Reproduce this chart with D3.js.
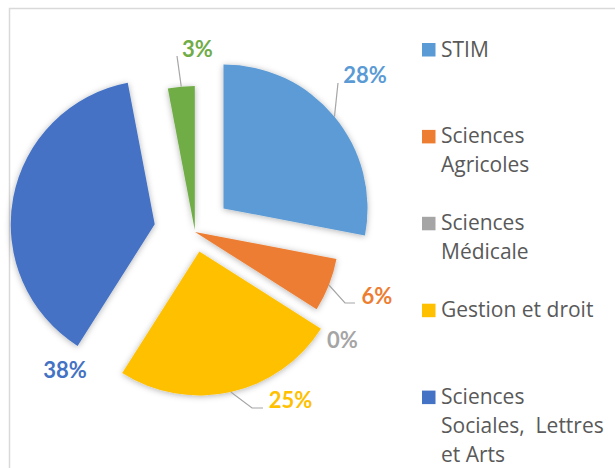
<!DOCTYPE html>
<html><head><meta charset="utf-8">
<script src="https://cdn.jsdelivr.net/npm/d3@7"></script>
<style>
html,body{margin:0;padding:0;background:#fff;}
svg{display:block;}
</style></head>
<body>
<script>
// ---- data ----
const categories = ["STIM", "Sciences Agricoles", "Sciences Médicale", "Gestion et droit", "Sciences Sociales,  Lettres et Arts", "Autres"];
const values = [28, 6, 0, 25, 38, 3];
const labels = ["28%", "6%", "0%", "25%", "38%", "3%"];
const legendLines = [["STIM"], ["Sciences", "Agricoles"], ["Sciences", "Médicale"], ["Gestion et droit"], ["Sciences", "Sociales,  Lettres", "et Arts"]];
const colors = ["#5B9BD5", "#ED7D31", "#A5A5A5", "#FFC000", "#4472C4", "#70AD47"];

// ---- layout ----
const W = 615, H = 468;
const cx = 195, cy = 232, R = 144;
const explode = [37, 0, 0, 20, 41, 2];
// label anchor (middle, baseline) and leader elbow
const labelPos = [
  {x: 365, y: 83, leader: [[338, 83]]},
  {x: 377, y: 304, leader: [[345, 303], [355, 303]]},
  {x: 342.5, y: 348, leader: null},
  {x: 290.5, y: 408, leader: [[252, 408], [263, 408]]},
  {x: 65, y: 378, leader: null},
  {x: 197.5, y: 57, leader: [[177, 56]]}
];

const svg = d3.select("body").append("svg").attr("width", W).attr("height", H);
const defs = svg.append("defs");
const f = defs.append("filter").attr("id", "sh").attr("x", "-20%").attr("y", "-20%").attr("width", "140%").attr("height", "140%");
f.append("feDropShadow").attr("dx", 0).attr("dy", 1).attr("stdDeviation", 3).attr("flood-color", "#000").attr("flood-opacity", 0.3);

// border
svg.append("rect").attr("x", 9.5).attr("y", 8.5).attr("width", 800).attr("height", 800)
  .attr("fill", "none").attr("stroke", "#d9d9d9").attr("stroke-width", 1.5);

const pie = d3.pie().sort(null).value(d => d)(values);
const arc = d3.arc().innerRadius(0).outerRadius(R);
const edge = d3.arc().innerRadius(R).outerRadius(R);

const off = (d, i) => {
  const a = (d.startAngle + d.endAngle) / 2;
  return [Math.sin(a) * explode[i], -Math.cos(a) * explode[i]];
};

const g = svg.append("g").attr("transform", `translate(${cx},${cy})`);
g.selectAll("path.slice").data(pie).join("path")
  .attr("class", "slice")
  .attr("transform", (d, i) => { const o = off(d, i); return `translate(${o[0]},${o[1]})`; })
  .attr("d", arc)
  .attr("fill", (d, i) => colors[i])
  .attr("filter", "url(#sh)");

// leader lines
pie.forEach((d, i) => {
  const lp = labelPos[i];
  if (!lp.leader) return;
  const o = off(d, i);
  const p0 = edge.centroid(d);
  const pts = [[cx + o[0] + p0[0], cy + o[1] + p0[1]]].concat(lp.leader);
  svg.append("path").attr("d", d3.line()(pts))
    .attr("fill", "none").attr("stroke", "#a6a6a6").attr("stroke-width", 1.2);
});

// data labels
svg.selectAll("text.lab").data(pie).join("text")
  .attr("class", "lab")
  .attr("x", (d, i) => labelPos[i].x).attr("y", (d, i) => labelPos[i].y)
  .attr("text-anchor", "middle")
  .attr("font-family", "Lato, sans-serif").attr("font-weight", "bold").attr("font-size", 22)
  .attr("fill", (d, i) => colors[i])
  .text((d, i) => labels[i]);

// legend
const lg = svg.append("g");
legendLines.forEach((lines, i) => {
  const y0 = 56.5 + i * 86.9;
  lg.append("rect").attr("x", 422).attr("y", y0 - 13.5).attr("width", 13.5).attr("height", 13.5).attr("fill", colors[i]);
  const t = lg.append("text").attr("font-family", "'Open Sans', sans-serif").attr("font-size", 21)
    .attr("fill", "#595959").style("white-space", "pre");
  lines.forEach((ln, j) => {
    t.append("tspan").attr("x", 441).attr("y", y0 + j * 28.7).text(ln);
  });
});
</script>
</body></html>
